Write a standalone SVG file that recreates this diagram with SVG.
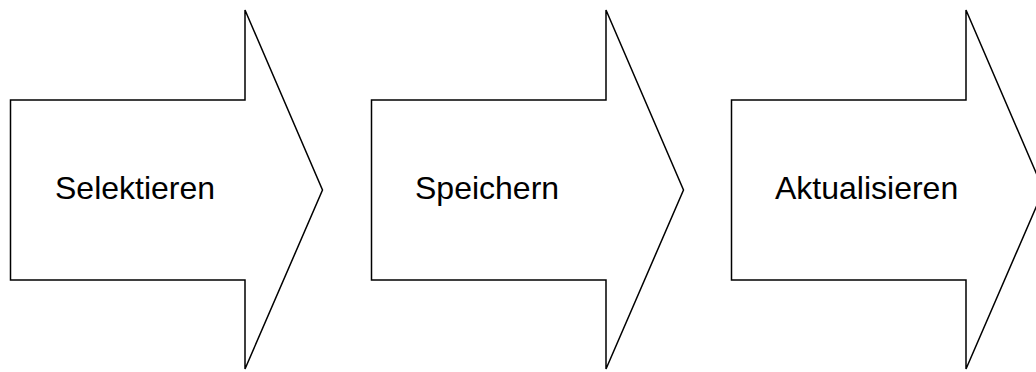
<svg xmlns="http://www.w3.org/2000/svg" width="1036" height="372" viewBox="0 0 1036 372">
<style>
.arrow{fill:#fff;stroke:#000;stroke-width:1.5;stroke-linejoin:miter}
.lbl{font-family:"Liberation Sans",Arial,sans-serif;font-size:32px;fill:#000}
</style>
<rect width="1036" height="372" fill="#fff"/>
<g id="node-selektieren">
<path class="arrow" d="M10.5,100 H245 V10 L322.5,190 L245,369 V280 H10.5 Z"/>
<text class="lbl" x="55" y="199">Selektieren</text>
</g>
<g id="node-speichern">
<path class="arrow" d="M371.5,100 H606 V10 L683.5,190 L606,369 V280 H371.5 Z"/>
<text class="lbl" x="415" y="199">Speichern</text>
</g>
<g id="node-aktualisieren">
<path class="arrow" d="M731.5,100 H966 V10 L1043.5,190 L966,369 V280 H731.5 Z"/>
<text class="lbl" x="775" y="199">Aktualisieren</text>
</g>
<g id="connectors"></g>
</svg>
